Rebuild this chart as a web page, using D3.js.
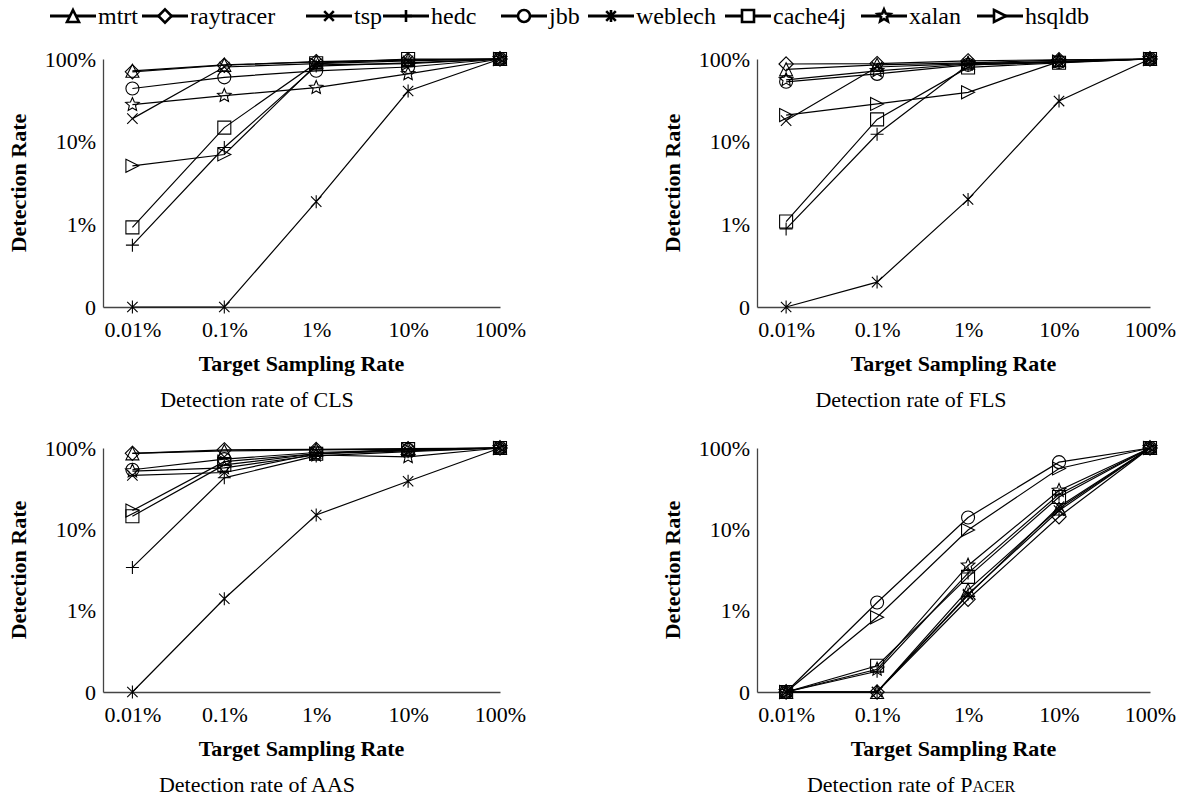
<!DOCTYPE html>
<html>
<head>
<meta charset="utf-8">
<script src="https://cdn.jsdelivr.net/npm/d3@7"></script>
<style>
    body { margin: 0; background: #fff; }
    svg text { font-family: 'Liberation Serif', 'Times New Roman', Times, serif; }
</style>
</head>
<body>
<div id="vis"></div>
<script>
// benchmarks, in legend order
const series = ['mtrt', 'raytracer', 'tsp', 'hedc', 'jbb', 'weblech', 'cache4j', 'xalan', 'hsqldb'];

// target sampling rates (%) and their labels
const rates = [0.01, 0.1, 1, 10, 100];
const rateLabels = ['0.01%', '0.1%', '1%', '10%', '100%'];

// detection rate ticks (%), the bottom one is shown as 0
const yTicks = [0.1, 1, 10, 100];
const yTickLabels = ['0', '1%', '10%', '100%'];

// detection rate (%) per benchmark, one row per series, one value per sampling rate
const clsValues = [
    [72, 85, 92, 97, 100],
    [70, 84, 93, 98, 100],
    [19, 80, 88, 95, 100],
    [0.56, 8.5, 82, 90, 100],
    [44, 60, 72, 80, 100],
    [0, 0, 1.88, 41, 100],
    [0.92, 14.8, 89, 100, 100],
    [28, 36, 45, 66, 100],
    [5.1, 7.0, 85, 88, 100]
];
const flsValues = [
    [75, 85, 90, 97, 100],
    [87, 88, 95, 98, 100],
    [18, 80, 88, 93, 100],
    [0.88, 12.3, 85, 91, 100],
    [53, 66, 85, 92, 100],
    [0, 0.2, 2.0, 31, 100],
    [1.08, 18.6, 79, 90, 100],
    [56, 72, 87, 93, 100],
    [21, 28.6, 39.5, 93, 100]
];
const aasValues = [
    [86, 92, 95, 97, 100],
    [86, 95, 96, 98, 100],
    [46, 50, 85, 92, 100],
    [3.4, 43, 80, 90, 100],
    [54, 73, 88, 95, 100],
    [0, 1.4, 15, 39, 100],
    [14.5, 62, 85, 97, 100],
    [52, 57, 82, 78, 100],
    [17, 68, 85, 95, 100]
];
const pacerValues = [
    [0, 0, 1.8, 18, 100],
    [0, 0, 1.38, 14.3, 100],
    [0, 0, 1.55, 19, 100],
    [0, 0.18, 2.9, 27, 100],
    [0, 1.26, 14, 67, 100],
    [0, 0, 1.6, 17, 100],
    [0, 0.21, 2.6, 25, 100],
    [0, 0.19, 3.6, 30, 100],
    [0, 0.83, 9.8, 56, 100]
];

const methods = ['CLS', 'FLS', 'AAS', 'PACER'];

// layout
const W = 1188, H = 803;
const FONT = "'Liberation Serif', 'Times New Roman', serif";
const markerTypes = ['triangle', 'diamond', 'cross', 'plus', 'circle', 'asterisk', 'square', 'star', 'triangleRight'];
const legendX = [50, 142, 306, 383, 501, 588, 725, 861, 977];
const legendLine = 46;
const panels = [
    { values: clsValues, left: 103, right: 500, top: 59, bottom: 307 },
    { values: flsValues, left: 757, right: 1150, top: 59, bottom: 307 },
    { values: aasValues, left: 103, right: 500, top: 448, bottom: 692 },
    { values: pacerValues, left: 757, right: 1150, top: 448, bottom: 692 }
];

const svg = d3.select('#vis')
    .append('svg')
    .attr('width', W)
    .attr('height', H);

function markerPath(type, s) {
    const h = s / 2;
    switch (type) {
        case 'triangle':
            return `M0,${-h}L${h},${h}L${-h},${h}Z`;
        case 'triangleRight':
            return `M${-h},${-h}L${h},0L${-h},${h}Z`;
        case 'diamond':
            return `M0,${-h * 1.1}L${h * 1.1},0L0,${h * 1.1}L${-h * 1.1},0Z`;
        case 'square':
            return `M${-h},${-h}H${h}V${h}H${-h}Z`;
        case 'circle':
            return `M${h},0A${h},${h} 0 1,1 ${-h},0A${h},${h} 0 1,1 ${h},0Z`;
        case 'plus':
            return `M0,${-h}V${h}M${-h},0H${h}`;
        case 'cross': {
            const k = h * 0.8;
            return `M${-k},${-k}L${k},${k}M${-k},${k}L${k},${-k}`;
        }
        case 'asterisk': {
            const k = h * 0.8;
            return `M${-k},${-k}L${k},${k}M${-k},${k}L${k},${-k}M0,${-h}V${h}`;
        }
        case 'star': {
            const pts = [];
            for (let i = 0; i < 10; i++) {
                const r = i % 2 === 0 ? h * 1.1 : h * 0.5;
                const a = -Math.PI / 2 + i * Math.PI / 5;
                pts.push([r * Math.cos(a), r * Math.sin(a)]);
            }
            return 'M' + pts.map(p => p[0].toFixed(2) + ',' + p[1].toFixed(2)).join('L') + 'Z';
        }
    }
}

// legend
const legend = svg.append('g').attr('class', 'legend');
series.forEach((name, i) => {
    const g = legend.append('g').attr('transform', `translate(${legendX[i]},16)`);
    g.append('line')
        .attr('x1', 0).attr('x2', legendLine)
        .attr('stroke', '#000').attr('stroke-width', 3);
    g.append('path')
        .attr('transform', `translate(${legendLine / 2},0)`)
        .attr('d', markerPath(markerTypes[i], 12))
        .attr('fill', '#fff')
        .attr('stroke', '#000')
        .attr('stroke-width', 2.6);
    g.append('text')
        .attr('x', legendLine + 2)
        .attr('y', 8)
        .attr('font-family', FONT)
        .attr('font-size', 24)
        .text(name);
});

function drawPanel(p, idx) {
    const xScale = d3.scaleLog()
        .domain([0.01 / Math.pow(10, 0.32), 100])
        .range([p.left, p.right]);
    const yScale = d3.scaleLog()
        .domain([0.1, 100])
        .range([p.bottom, p.top]);
    const yVal = v => yScale(Math.max(v, 0.1));

    const g = svg.append('g').attr('class', 'panel');

    g.append('g')
        .attr('class', 'axis')
        .attr('transform', `translate(0,${p.bottom})`)
        .call(d3.axisBottom(xScale)
            .tickValues(rates)
            .tickFormat((d, i) => rateLabels[i])
            .tickSize(0)
            .tickPadding(14));
    g.append('g')
        .attr('class', 'axis')
        .attr('transform', `translate(${p.left},0)`)
        .call(d3.axisLeft(yScale)
            .tickValues(yTicks)
            .tickFormat((d, i) => yTickLabels[i])
            .tickSize(0)
            .tickPadding(7));
    g.selectAll('.axis')
        .attr('font-family', FONT)
        .attr('font-size', 22);
    g.selectAll('.axis path.domain')
        .attr('stroke', '#444')
        .attr('stroke-width', 1.3);
    g.selectAll('.axis text')
        .attr('font-family', FONT)
        .attr('fill', '#000');

    const line = d3.line()
        .x((d, i) => xScale(rates[i]))
        .y(d => yVal(d));

    p.values.forEach(vals => {
        g.append('path')
            .datum(vals)
            .attr('fill', 'none')
            .attr('stroke', '#000')
            .attr('stroke-width', 1.2)
            .attr('d', line);
    });
    p.values.forEach((vals, s) => {
        g.selectAll(null)
            .data(vals)
            .enter()
            .append('path')
            .attr('transform', (d, i) => `translate(${xScale(rates[i])},${yVal(d)})`)
            .attr('d', markerPath(markerTypes[s], 13))
            .attr('fill', 'none')
            .attr('stroke', '#000')
            .attr('stroke-width', 1.1);
    });

    // axis titles
    g.append('text')
        .attr('x', (p.left + p.right) / 2)
        .attr('y', p.bottom + 64)
        .attr('text-anchor', 'middle')
        .attr('font-family', FONT)
        .attr('font-size', 22)
        .attr('font-weight', 'bold')
        .text('Target Sampling Rate');
    g.append('text')
        .attr('transform', `translate(${p.left - 85},${(p.top + p.bottom) / 2}) rotate(-90)`)
        .attr('text-anchor', 'middle')
        .attr('dominant-baseline', 'central')
        .attr('font-family', FONT)
        .attr('font-size', 22)
        .attr('font-weight', 'bold')
        .text('Detection Rate');

    // caption
    const cap = g.append('text')
        .attr('x', p.left + 154)
        .attr('y', p.bottom + 100)
        .attr('text-anchor', 'middle')
        .attr('font-family', FONT)
        .attr('font-size', 22);
    const m = methods[idx];
    if (m === 'PACER') {
        cap.append('tspan').text('Detection rate of P');
        cap.append('tspan').attr('font-size', 16).text('ACER');
    } else {
        cap.text('Detection rate of ' + m);
    }
}

panels.forEach(drawPanel);
</script>
</body>
</html>
